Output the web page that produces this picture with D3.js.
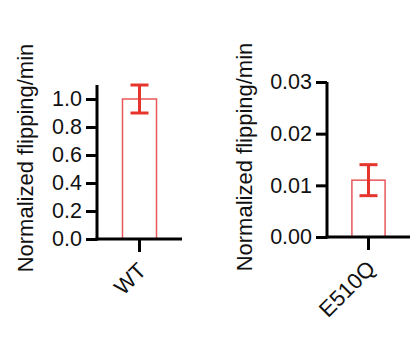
<!DOCTYPE html>
<html><head><meta charset="utf-8">
<script src="https://cdn.jsdelivr.net/npm/d3@7"></script>
<style>
html,body{margin:0;padding:0;background:#fff;}
svg{display:block;}
text{font-family:"Liberation Sans",Arial,Helvetica,sans-serif;}
</style></head>
<body>
<svg id="c" width="417" height="351"></svg>
<script>
const categoriesA = ["WT"];
const valuesA = [1.0];
const errorsA = [0.1];
const ticksA = [0, 0.2, 0.4, 0.6, 0.8, 1.0];

const categoriesB = ["E510Q"];
const valuesB = [0.011];
const errorsB = [0.003];
const ticksB = [0, 0.01, 0.02, 0.03];

const yLabel = "Normalized flipping/min";

const svg = d3.select("#c");
const barColor = "#e8585a";
const errColor = "#e5352d";

function panel(cfg) {
  const g = svg.append("g");
  const y = d3.scaleLinear().domain(cfg.yDomain).range([cfg.y0, cfg.y1]);
  const x = d3.scaleBand().domain(cfg.cats).range([cfg.x0, cfg.x1]).paddingInner(0.6).paddingOuter(0.3);

  g.selectAll("rect.bar").data(cfg.cats).enter().append("rect")
    .attr("x", d => x(d)).attr("width", x.bandwidth())
    .attr("y", (d,i) => y(cfg.vals[i])).attr("height", (d,i) => y(0) - y(cfg.vals[i]))
    .attr("fill", "none").attr("stroke", barColor).attr("stroke-width", 1.5);

  const cw = 18;
  cfg.cats.forEach((c,i) => {
    const cx = x(c) + x.bandwidth()/2;
    const hi = y(cfg.vals[i] + cfg.errs[i]), lo = y(cfg.vals[i] - cfg.errs[i]);
    g.append("line").attr("x1", cx).attr("x2", cx).attr("y1", hi).attr("y2", lo)
      .attr("stroke", errColor).attr("stroke-width", 3);
    [hi, lo].forEach(v => g.append("line").attr("x1", cx - cw/2).attr("x2", cx + cw/2)
      .attr("y1", v).attr("y2", v).attr("stroke", errColor).attr("stroke-width", 3));
  });

  const ya = g.append("g").attr("transform", `translate(${cfg.x0},0)`)
    .call(d3.axisLeft(y).tickValues(cfg.ticks).tickFormat(cfg.fmt).tickSize(11).tickSizeOuter(0).tickPadding(4));
  ya.select(".domain").attr("stroke", "#000").attr("stroke-width", 3).attr("d", `M0,${cfg.y1}V${cfg.y0+1.5}`);
  ya.selectAll(".tick line").attr("stroke", "#000").attr("stroke-width", 3);
  ya.selectAll(".tick text").attr("font-size", 21.5).attr("fill", "#111").attr("font-family", "Liberation Sans, Arial, sans-serif");

  const xa = g.append("g").attr("transform", `translate(0,${cfg.y0})`)
    .call(d3.axisBottom(x).tickSize(13).tickSizeOuter(0).tickPadding(4));
  xa.select(".domain").attr("stroke", "#000").attr("stroke-width", 3).attr("d", `M${cfg.x0-1.5},0H${cfg.x1}`);
  xa.selectAll(".tick line").attr("stroke", "#000").attr("stroke-width", 3);
  xa.selectAll(".tick text").attr("font-size", 22).attr("fill", "#111")
    .attr("font-family", "Liberation Sans, Arial, sans-serif")
    .attr("text-anchor", "end").attr("y", 0).attr("dy", 0)
    .attr("transform", "translate(8,33) rotate(-45)");

  g.append("text").attr("transform", `translate(${cfg.labX},${cfg.labY}) rotate(-90)`)
    .attr("text-anchor", "middle").attr("font-size", 22).attr("fill", "#111").text(yLabel);
}

panel({cats: categoriesA, vals: valuesA, errs: errorsA, ticks: ticksA, fmt: d3.format(".1f"),
  yDomain: [0, 1.1], y0: 239, y1: 85, x0: 97, x1: 182, labX: 33, labY: 158});
panel({cats: categoriesB, vals: valuesB, errs: errorsB, ticks: ticksB, fmt: d3.format(".2f"),
  yDomain: [0, 0.03], y0: 237, y1: 82, x0: 327, x1: 410, labX: 252, labY: 157});
</script>
</body></html>
